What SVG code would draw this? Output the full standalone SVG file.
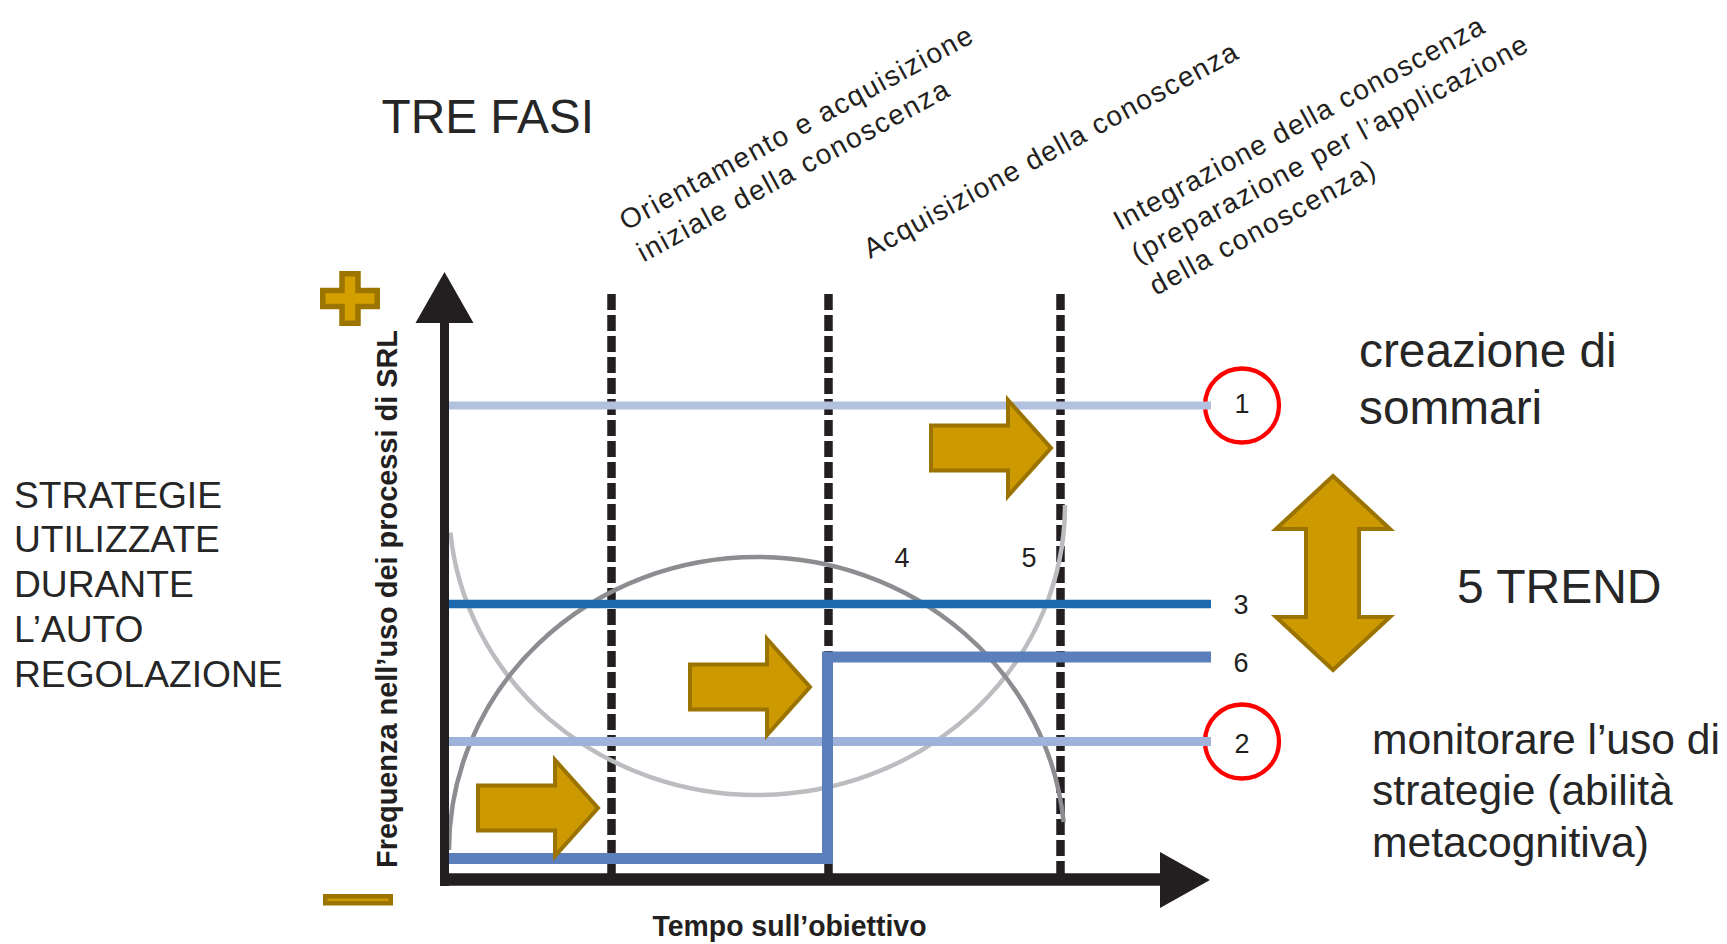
<svg xmlns="http://www.w3.org/2000/svg" width="1727" height="944" viewBox="0 0 1727 944">
<style>
.big{font-family:"Liberation Sans",Arial,sans-serif;fill:#262626}
.chart{font-family:"Liberation Sans",Arial,sans-serif;fill:#231f20}
.phase{font-family:"Liberation Sans",Arial,sans-serif;fill:#231f20;font-size:28px}
.num{font-family:"Liberation Sans",Arial,sans-serif;fill:#231f20;font-size:27px;text-anchor:middle}
.gold{fill:#cc9900;stroke:#9a7300;stroke-width:4;stroke-linejoin:miter}
.dash{stroke:#231f20;stroke-width:8.5;stroke-dasharray:16 5;fill:none}
.axis{stroke:#231f20;fill:none}
.circ{fill:none;stroke:#ff0000;stroke-width:4.3}
</style>
<defs>
<path id="arrowR" d="M2,-22.5 H79 V-48 L122,0 L79,48 V22.5 H2 Z"/>
</defs>
<rect width="1727" height="944" fill="#ffffff"/>

<g id="title"><text class="big" x="381.5" y="132.7" font-size="47.8">TRE FASI</text></g>

<g id="left-label" class="big" font-size="37.2">
<text x="14" y="507.5">STRATEGIE</text>
<text x="14" y="552.3">UTILIZZATE</text>
<text x="14" y="597">DURANTE</text>
<text x="14" y="641.8">L’AUTO</text>
<text x="14" y="686.5">REGOLAZIONE</text>
</g>

<g id="phase1" class="phase">
<text transform="translate(626,231) rotate(-28.5)" textLength="397" lengthAdjust="spacing">Orientamento e acquisizione</text>
<text transform="translate(643.5,262.6) rotate(-28.5)" textLength="350" lengthAdjust="spacing">iniziale della conoscenza</text>
</g>
<g id="phase2" class="phase">
<text transform="translate(870,259) rotate(-28.5)" textLength="421" lengthAdjust="spacing">Acquisizione della conoscenza</text>
</g>
<g id="phase3" class="phase">
<text transform="translate(1120,231) rotate(-28.5)" textLength="417" lengthAdjust="spacing">Integrazione della conoscenza</text>
<text transform="translate(1138,263.5) rotate(-28.5)" textLength="446" lengthAdjust="spacing">(preparazione per l’applicazione</text>
<text transform="translate(1156,296) rotate(-28.5)" textLength="252" lengthAdjust="spacing">della conoscenza)</text>
</g>

<g id="plus-minus">
<path d="M342,273.75 H358 V290.5 H377.25 V306.5 H358 V323.25 H342 V306.5 H322.75 V290.5 H342 Z" fill="#d4a000" stroke="#9c7400" stroke-width="5.5"/>
<rect x="325.25" y="896.25" width="65.5" height="7" fill="#cc9900" stroke="#9c7400" stroke-width="4.5"/>
</g>

<g id="phase-dividers">
<line class="dash" x1="611.5" y1="294" x2="611.5" y2="874"/>
<line class="dash" x1="828.5" y1="294" x2="828.5" y2="874"/>
<line class="dash" x1="1060.5" y1="294" x2="1060.5" y2="874"/>
</g>

<g id="curves" fill="none" stroke-width="4.5">
<path d="M450.4,532.6 A308,290 0 0 0 757,795 A308,290 0 0 0 1065,505" stroke="#bcbdc1"/>
<path d="M449,850 A308,293 0 0 1 757,557 A308,293 0 0 1 1063.6,822" stroke="#8c8c91"/>
</g>

<g id="circles">
<circle class="circ" cx="1242" cy="405.5" r="37"/>
<circle class="circ" cx="1242" cy="741.5" r="37"/>
</g>

<g id="connectors">
<line x1="449" y1="405.5" x2="1211" y2="405.5" stroke="#b2c1e0" stroke-width="8"/>
<line x1="449" y1="741.5" x2="1211" y2="741.5" stroke="#9fb2da" stroke-width="9"/>
<line x1="449" y1="604" x2="1211" y2="604" stroke="#1d69ad" stroke-width="8.5"/>
<path d="M449,858.5 H827.5 V657 H1211" fill="none" stroke="#5b7fbb" stroke-width="11" stroke-linejoin="miter"/>
</g>

<g id="axes">
<line class="axis" x1="444.5" y1="320" x2="444.5" y2="886" stroke-width="9"/>
<polygon points="444.5,272 473.5,323 415.5,323" fill="#231f20"/>
<line class="axis" x1="440" y1="879.5" x2="1162" y2="879.5" stroke-width="12.5"/>
<polygon points="1160,852 1210,880 1160,908" fill="#231f20"/>
<text class="chart" transform="translate(396.5,599) rotate(-90)" text-anchor="middle" font-size="29" font-weight="bold" textLength="538" lengthAdjust="spacingAndGlyphs">Frequenza nell’uso dei processi di SRL</text>
<text class="chart" x="789.5" y="936" text-anchor="middle" font-size="29" font-weight="bold" textLength="274" lengthAdjust="spacingAndGlyphs">Tempo sull’obiettivo</text>
</g>

<g id="labels">
<text class="num" x="1242" y="413">1</text>
<text class="num" x="1242" y="753">2</text>
<text class="num" x="1241" y="614">3</text>
<text class="num" x="1241" y="672">6</text>
<text class="num" x="902" y="567">4</text>
<text class="num" x="1029" y="567">5</text>
</g>

<g id="phase-arrows">
<use href="#arrowR" class="gold" x="476" y="808"/>
<use href="#arrowR" class="gold" x="688" y="687"/>
<use href="#arrowR" class="gold" x="929" y="448"/>
</g>

<g id="trend-arrow">
<path class="gold" d="M1333,476 L1390,529 H1359 V617 H1390 L1333,670 L1276,617 H1306 V529 H1276 Z"/>
</g>

<g id="right-text" class="big">
<text x="1359" y="367" font-size="47.8">creazione di</text>
<text x="1359" y="424" font-size="47.8">sommari</text>
<text x="1457" y="602.5" font-size="48">5 TREND</text>
<text x="1372" y="753.5" font-size="42.6">monitorare l’uso di</text>
<text x="1372" y="805" font-size="42.6">strategie (abilità</text>
<text x="1372" y="856.5" font-size="42.6">metacognitiva)</text>
</g>
</svg>
